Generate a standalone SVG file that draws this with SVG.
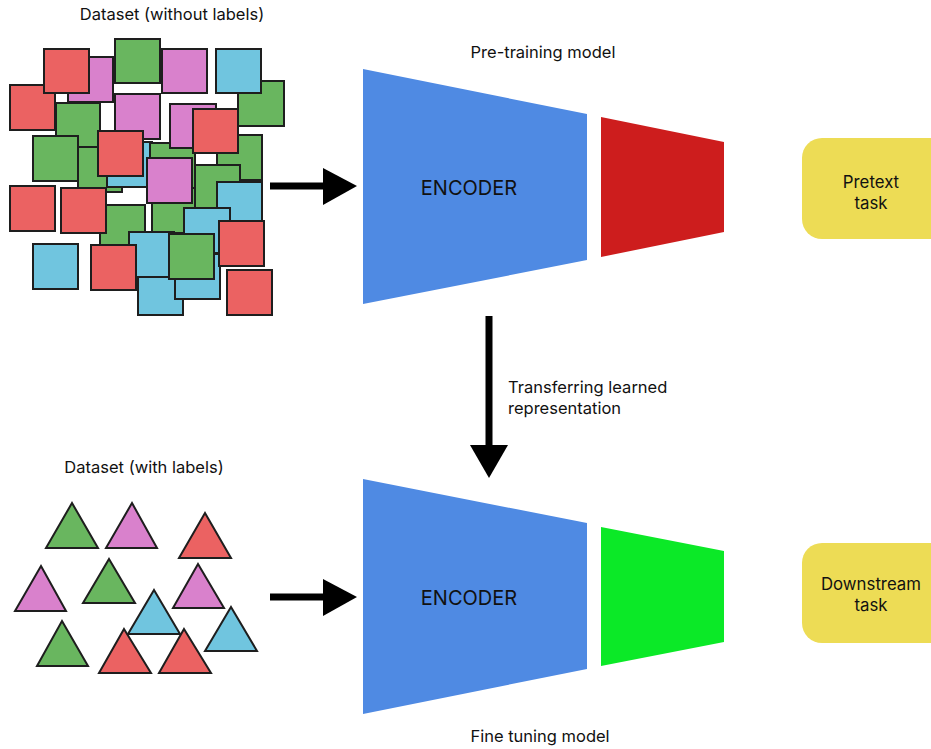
<svg xmlns="http://www.w3.org/2000/svg" width="931" height="749" viewBox="0 0 931 749">
  <style>
    text { font-family: Inter, "Noto Sans", "Liberation Sans", sans-serif; fill: #111; }
    .lbl { font-size: 16.5px; }
    .enc { font-size: 20px; text-anchor: middle; }
    .task { font-size: 16.8px; text-anchor: middle; }
    .sq rect, .tri polygon { stroke: #1e1e1e; stroke-width: 2; stroke-linejoin: miter; }
    .r { fill: #EB6262; }
    .p { fill: #D981CC; }
    .g { fill: #69B65F; }
    .b { fill: #70C5DF; }
    .conn line { stroke: #000; stroke-width: 7; }
    .conn polygon { fill: #000; }
  </style>

  <!-- unlabelled dataset: scattered squares -->
  <g id="dataset-unlabelled" class="sq">
    <text class="lbl" x="172" y="20" text-anchor="middle" stroke="none">Dataset (without labels)</text>
    <rect class="p" x="68" y="57" width="45" height="45"/>
    <rect class="r" x="10" y="85" width="45" height="45"/>
    <rect class="r" x="44" y="49" width="45" height="44"/>
    <rect class="g" x="115" y="39" width="45" height="44"/>
    <rect class="p" x="162" y="49" width="45" height="44"/>
    <rect class="g" x="238" y="81" width="46" height="45"/>
    <rect class="b" x="216" y="49" width="45" height="44"/>
    <rect class="g" x="56" y="103" width="44" height="44"/>
    <rect class="g" x="78" y="147" width="44" height="45"/>
    <rect class="g" x="33" y="136" width="45" height="45"/>
    <rect class="p" x="115" y="94" width="45" height="45"/>
    <rect class="b" x="107" y="142" width="45" height="45"/>
    <rect class="g" x="150" y="143" width="45" height="45"/>
    <rect class="p" x="170" y="104" width="46" height="44"/>
    <rect class="g" x="217" y="135" width="45" height="45"/>
    <rect class="r" x="193" y="109" width="45" height="44"/>
    <rect class="r" x="98" y="131" width="45" height="45"/>
    <rect class="g" x="152" y="188" width="45" height="45"/>
    <rect class="g" x="195" y="165" width="45" height="45"/>
    <rect class="p" x="147" y="158" width="45" height="45"/>
    <rect class="b" x="217" y="182" width="45" height="45"/>
    <rect class="r" x="10" y="186" width="45" height="45"/>
    <rect class="g" x="100" y="205" width="45" height="40"/>
    <rect class="r" x="61" y="188" width="45" height="45"/>
    <rect class="b" x="33" y="244" width="45" height="45"/>
    <rect class="b" x="138" y="270" width="45" height="45"/>
    <rect class="b" x="129" y="232" width="45" height="45"/>
    <rect class="r" x="91" y="245" width="45" height="45"/>
    <rect class="b" x="175" y="254" width="45" height="45"/>
    <rect class="b" x="184" y="208" width="46" height="45"/>
    <rect class="g" x="169" y="234" width="45" height="45"/>
    <rect class="r" x="219" y="221" width="45" height="45"/>
    <rect class="r" x="227" y="270" width="45" height="45"/>
  </g>

  <!-- labelled dataset: scattered triangles -->
  <g id="dataset-labelled" class="tri">
    <text class="lbl" x="144" y="473" text-anchor="middle">Dataset (with labels)</text>
    <polygon class="g" points="72,503 98,548 46,548"/>
    <polygon class="p" points="132,503 157,548 106,548"/>
    <polygon class="r" points="205,513 231,558 179,558"/>
    <polygon class="p" points="41,566 66,611 15,611"/>
    <polygon class="g" points="109,559 135,603 83,603"/>
    <polygon class="p" points="198,564 224,608 173,608"/>
    <polygon class="b" points="154,590 180,634 128,634"/>
    <polygon class="b" points="231,607 257,651 205,651"/>
    <polygon class="g" points="62,621 88,666 37,666"/>
    <polygon class="r" points="124,629 151,673 99,673"/>
    <polygon class="r" points="184,629 211,673 159,673"/>
  </g>

  <!-- pre-training model -->
  <g id="pretrain-model">
    <text class="lbl" x="543" y="58" text-anchor="middle">Pre-training model</text>
    <g id="encoder-top">
      <polygon points="363,69 587,114 587,260 363,304" fill="#4F8AE3"/>
      <text class="enc" x="469" y="195">ENCODER</text>
    </g>
    <polygon id="head-pretext" points="601,117 724,142 724,232 601,257" fill="#CD1D1D"/>
  </g>

  <!-- fine-tuning model -->
  <g id="finetune-model">
    <text class="lbl" x="540" y="742" text-anchor="middle">Fine tuning model</text>
    <g id="encoder-bottom">
      <polygon points="363,479 587,523 587,669 363,714" fill="#4F8AE3"/>
      <text class="enc" x="469" y="605">ENCODER</text>
    </g>
    <polygon id="head-downstream" points="601,527 724,551 724,642 601,666" fill="#0BE927"/>
  </g>

  <!-- tasks -->
  <g id="pretext-task">
    <rect x="802" y="138" width="150" height="101" rx="20" fill="#EDDC55"/>
    <text class="task" x="871" y="188">Pretext</text>
    <text class="task" x="871" y="209">task</text>
  </g>
  <g id="downstream-task">
    <rect x="802" y="543" width="150" height="100" rx="20" fill="#EDDC55"/>
    <text class="task" x="871" y="590">Downstream</text>
    <text class="task" x="871" y="611">task</text>
  </g>

  <!-- connectors -->
  <g id="connectors" class="conn">
    <line x1="270" y1="186" x2="325" y2="186"/>
    <polygon points="323,168 357,186 323,205"/>
    <line x1="270" y1="597" x2="325" y2="597"/>
    <polygon points="323,579 357,597 323,616"/>
    <line x1="489" y1="316" x2="489" y2="447"/>
    <polygon points="470,445 508,445 489,478"/>
    <text class="lbl" x="508" y="393">Transferring learned</text>
    <text class="lbl" x="508" y="414">representation</text>
  </g>
</svg>
